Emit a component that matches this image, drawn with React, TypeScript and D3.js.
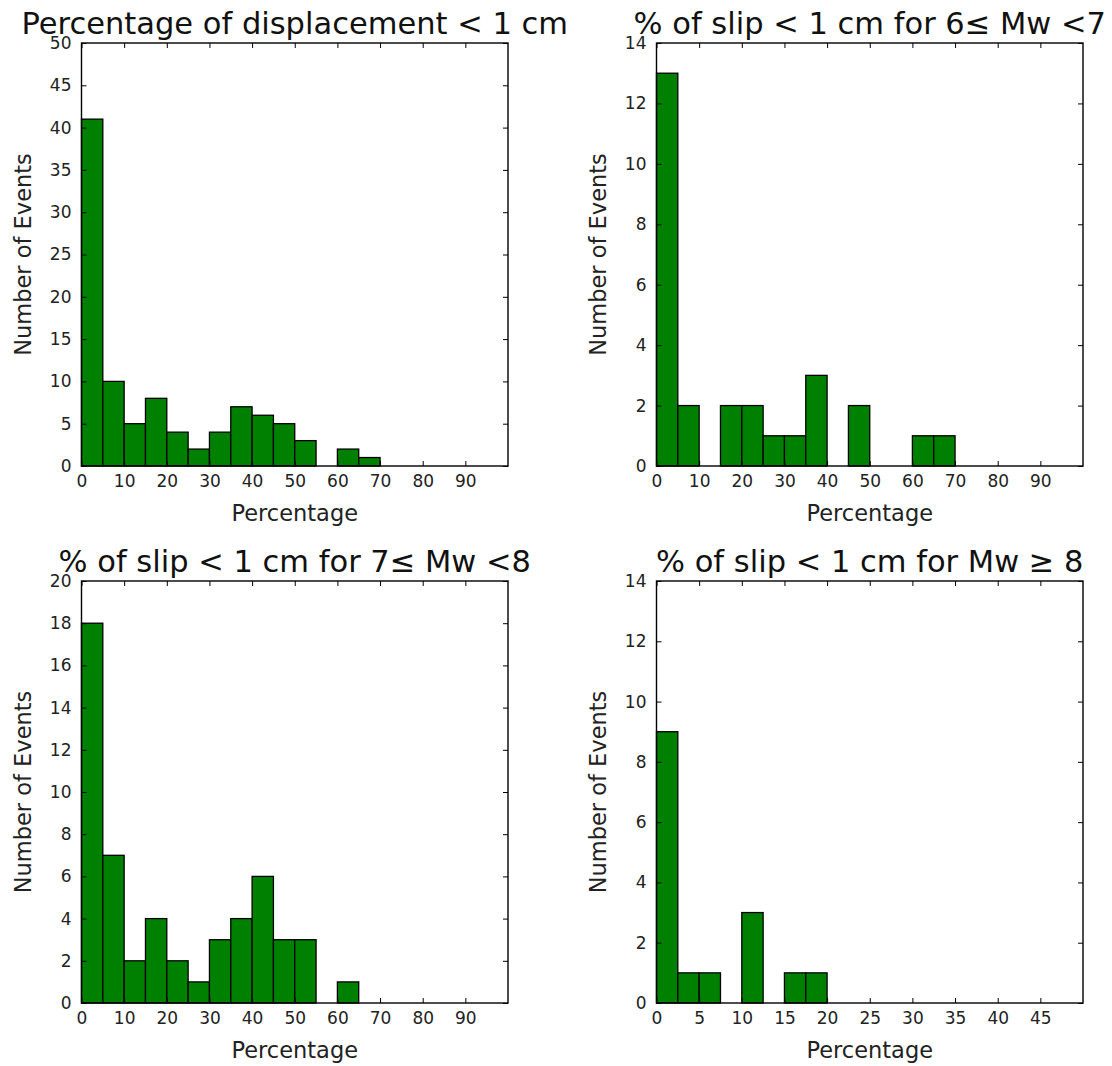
import React, { useEffect, useRef } from "react";
import * as d3 from "d3";

// histogram counts per bin
const allCounts = [41, 10, 5, 8, 4, 2, 4, 7, 6, 5, 3, 0, 2, 1, 0, 0, 0, 0, 0];
const mw6Counts = [13, 2, 0, 2, 2, 1, 1, 3, 0, 2, 0, 0, 1, 1, 0, 0, 0, 0, 0];
const mw7Counts = [18, 7, 2, 4, 2, 1, 3, 4, 6, 3, 3, 0, 1, 0, 0, 0, 0, 0, 0];
const mw8Counts = [9, 1, 1, 0, 3, 0, 1, 1, 0, 0, 0, 0, 0, 0, 0, 0, 0, 0, 0];

const xTicksWide = [0, 10, 20, 30, 40, 50, 60, 70, 80, 90];
const xTicksNarrow = [0, 5, 10, 15, 20, 25, 30, 35, 40, 45];

const panels = [
  {
    title: "Percentage of displacement < 1 cm",
    counts: allCounts,
    binWidth: 5,
    xMax: 100,
    xTicks: xTicksWide,
    yMax: 50,
    yTicks: [0, 5, 10, 15, 20, 25, 30, 35, 40, 45, 50],
    box: { x: 81.5, y: 43, w: 426.5, h: 423 },
  },
  {
    title: "% of slip < 1 cm for 6\u2264 Mw <7",
    counts: mw6Counts,
    binWidth: 5,
    xMax: 100,
    xTicks: xTicksWide,
    yMax: 14,
    yTicks: [0, 2, 4, 6, 8, 10, 12, 14],
    box: { x: 656.5, y: 43, w: 426.5, h: 423 },
  },
  {
    title: "% of slip < 1 cm for 7\u2264 Mw <8",
    counts: mw7Counts,
    binWidth: 5,
    xMax: 100,
    xTicks: xTicksWide,
    yMax: 20,
    yTicks: [0, 2, 4, 6, 8, 10, 12, 14, 16, 18, 20],
    box: { x: 81.5, y: 581, w: 426.5, h: 422 },
  },
  {
    title: "% of slip < 1 cm for Mw \u2265 8",
    counts: mw8Counts,
    binWidth: 2.5,
    xMax: 50,
    xTicks: xTicksNarrow,
    yMax: 14,
    yTicks: [0, 2, 4, 6, 8, 10, 12, 14],
    box: { x: 656.5, y: 581, w: 426.5, h: 422 },
  },
];

const FONT = "DejaVu Sans, sans-serif";

const App = () => {
  const svgRef = useRef<SVGSVGElement>(null);

  useEffect(() => {
    const root = d3.select(svgRef.current);
    root.selectAll("*").remove();

    panels.forEach((p) => {
      const { x: bx, y: by, w, h } = p.box;
      const g = root.append("g").attr("transform", `translate(${bx},${by})`);

      const x = d3.scaleLinear().domain([0, p.xMax]).range([0, w]);
      const y = d3.scaleLinear().domain([0, p.yMax]).range([h, 0]);

      // bars
      g.selectAll(".bar")
        .data(p.counts)
        .enter()
        .append("rect")
        .attr("class", "bar")
        .attr("x", (d, i) => x(i * p.binWidth))
        .attr("width", x(p.binWidth) - x(0))
        .attr("y", (d) => y(d))
        .attr("height", (d) => y(0) - y(d))
        .attr("fill", "#008000")
        .attr("stroke", "#000")
        .attr("stroke-width", 1.3);

      // axes with inward ticks
      const bottom = g
        .append("g")
        .attr("transform", `translate(0,${h})`)
        .call(d3.axisBottom(x).tickValues(p.xTicks).tickSizeInner(-5).tickSizeOuter(0).tickPadding(9));
      const top = g
        .append("g")
        .call(d3.axisTop(x).tickValues(p.xTicks).tickSizeInner(-5).tickSizeOuter(0).tickFormat(() => ""));
      const left = g
        .append("g")
        .call(d3.axisLeft(y).tickValues(p.yTicks).tickSizeInner(-5).tickSizeOuter(0).tickPadding(10));
      const right = g
        .append("g")
        .attr("transform", `translate(${w},0)`)
        .call(d3.axisRight(y).tickValues(p.yTicks).tickSizeInner(-5).tickSizeOuter(0).tickFormat(() => ""));

      [bottom, top, left, right].forEach((a) => {
        a.select(".domain").remove();
        a.selectAll("line").attr("stroke", "#000");
        a.selectAll("text")
          .attr("font-family", FONT)
          .attr("font-size", 17)
          .attr("fill", "#222");
      });

      // frame
      g.append("rect")
        .attr("width", w)
        .attr("height", h)
        .attr("fill", "none")
        .attr("stroke", "#000")
        .attr("stroke-width", 1.4);

      // title
      g.append("text")
        .attr("x", w / 2)
        .attr("y", -9.5)
        .attr("text-anchor", "middle")
        .attr("font-family", FONT)
        .attr("font-size", 30.5)
        .attr("fill", "#111")
        .text(p.title);

      // axis labels
      g.append("text")
        .attr("x", w / 2)
        .attr("y", h + 55)
        .attr("text-anchor", "middle")
        .attr("font-family", FONT)
        .attr("font-size", 22.5)
        .attr("fill", "#222")
        .text("Percentage");

      g.append("text")
        .attr("transform", `translate(-51,${h / 2}) rotate(-90)`)
        .attr("text-anchor", "middle")
        .attr("font-family", FONT)
        .attr("font-size", 22.5)
        .attr("fill", "#222")
        .text("Number of Events");
    });
  }, []);

  return (
    <svg
      ref={svgRef}
      width={1112}
      height={1066}
      style={{ position: "absolute", left: 0, top: 0, background: "#fff" }}
    ></svg>
  );
};

export default App;
